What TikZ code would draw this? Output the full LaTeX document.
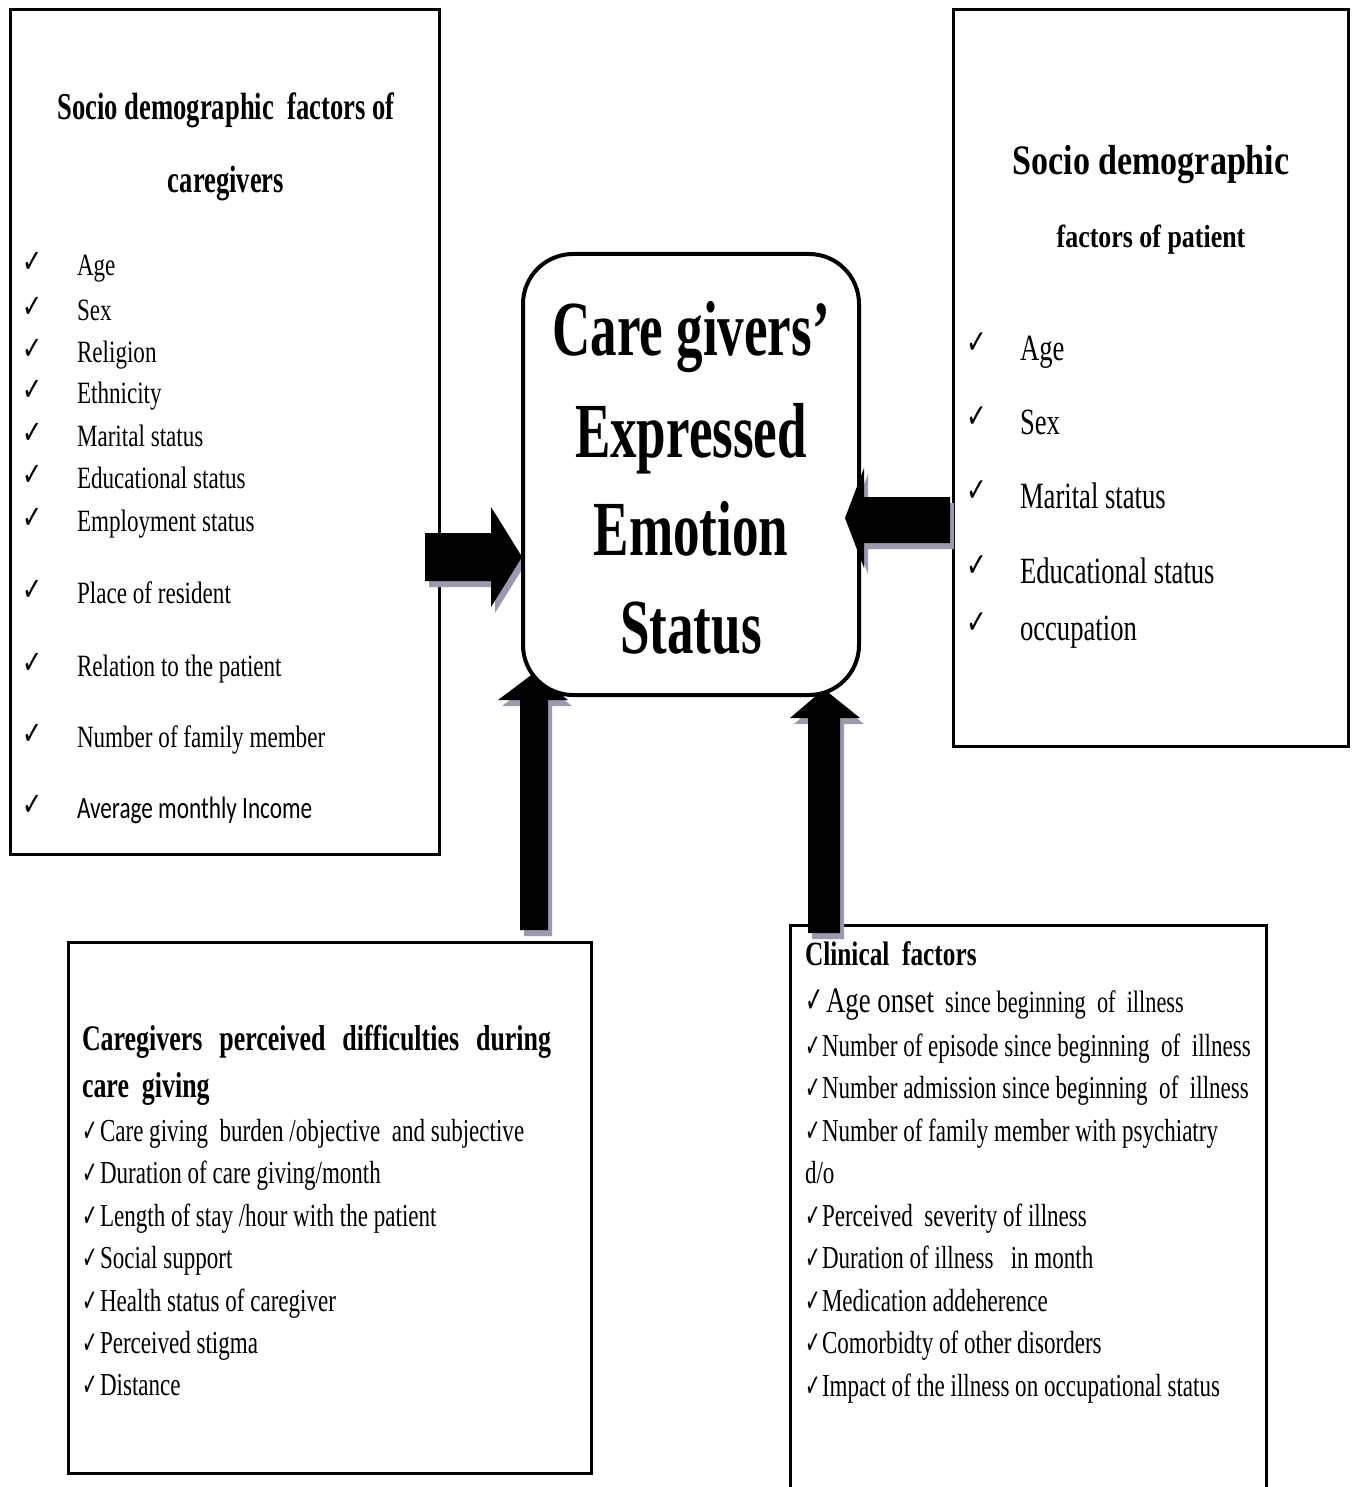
\documentclass[tikz,border=0pt]{standalone}
\usepackage{fontspec}
\setmainfont{Liberation Serif}[FakeStretch=0.72,BoldFont={Liberation Serif Bold}]
\newfontfamily\fA{Liberation Serif}[FakeStretch=0.68,BoldFont={Liberation Serif Bold}]
\newfontfamily\fB{Liberation Serif}[FakeStretch=0.745,BoldFont={Liberation Serif Bold}]
\newfontfamily\fC{Liberation Serif}[FakeStretch=0.81,BoldFont={Liberation Serif Bold}]
\newfontfamily\fD{Liberation Serif}[FakeStretch=0.72,BoldFont={Liberation Serif Bold}]
\newfontfamily\fE{Liberation Serif}[FakeStretch=0.70,BoldFont={Liberation Serif Bold}]
\newfontfamily\fCal{Carlito}[FakeStretch=0.75]
\newfontfamily\fChk{DejaVu Sans}[FakeStretch=0.75]
\newfontfamily\fChkN{DejaVu Sans}[FakeStretch=0.6]
\definecolor{shadowc}{RGB}{160,152,176}
\newcommand\fs[1]{\fontsize{#1}{#1}\selectfont}
\newcommand\ckb{\makebox[18pt][l]{\fChkN\fs{31}✓}}
\newcommand\ckc{\makebox[17pt][l]{\fChkN\fs{31}✓}}
\newcommand\arrowA{(425,533) -- (491,533) -- (491,507) -- (522,557) -- (491,607) -- (491,581) -- (425,581) -- cycle}
\newcommand\arrowB{(950,497) -- (864,497) -- (864,468) -- (845,518) -- (864,568) -- (864,543) -- (950,543) -- cycle}
\newcommand\arrowC{(520,930) -- (520,700) -- (498,700) -- (534,673) -- (568,700) -- (548,700) -- (548,930) -- cycle}
\newcommand\arrowD{(808,933) -- (808,718) -- (790,718) -- (824,689) -- (860,718) -- (840,718) -- (840,933) -- cycle}
\begin{document}
\begin{tikzpicture}[x=1pt,y=-1pt,
  txt/.style={anchor=base west,inner sep=0pt,outer sep=0pt},
  ctxt/.style={anchor=base,inner sep=0pt,outer sep=0pt},
  ck/.style={anchor=base west,inner sep=0pt,outer sep=0pt},
  frame/.style={draw=black,line width=3pt,inner sep=0pt},
  blockarrow/.style={fill=black},
  arrowshadow/.style={fill=shadowc}]
\useasboundingbox[fill=white] (0,0) rectangle (1357,1487);

% frames
\node[frame,minimum width=429pt,minimum height=845pt] (cg) at (225,432) {};
\node[frame,minimum width=395pt,minimum height=737pt] (pt) at (1151,378) {};
\node[frame,minimum width=523pt,minimum height=531pt] (df) at (330,1208) {};
\coordinate (clbl) at (790.5,1500);
\coordinate (cltl) at (790.5,925.5);
\coordinate (cltr) at (1266.5,925.5);
\coordinate (clbr) at (1266.5,1500);
\draw[line width=3pt] (clbl) -- (cltl) -- (cltr) -- (clbr);

% block arrows with shadows (behind the central box)
\begin{scope}[shift={(4,6)}]
  \fill[arrowshadow] \arrowA;
  \fill[arrowshadow] \arrowC;
  \fill[arrowshadow] \arrowD;
\end{scope}
\fill[blockarrow] \arrowA;
\fill[blockarrow] \arrowC;
\fill[blockarrow] \arrowD;

% central box
\node[draw,line width=4pt,rounded corners=50pt,fill=white,minimum width=336pt,minimum height=441pt,inner sep=0pt] (ee) at (691,474.5) {};
\node[ctxt,font=\fA\bfseries\fs{78}] (ee1) at (691,355) {Care givers’};
\node[ctxt,font=\fA\bfseries\fs{78}] (ee2) at (691,457) {Expressed};
\node[ctxt,font=\fA\bfseries\fs{78}] (ee3) at (691,555) {Emotion};
\node[ctxt,font=\fA\bfseries\fs{78}] (ee4) at (691,653) {Status};

% arrow from the patient box, drawn over the central box
\begin{scope}[shift={(4,6)}]
  \fill[arrowshadow] \arrowB;
\end{scope}
\fill[blockarrow] \arrowB;

% caregiver socio-demographic box
\node[ctxt,font=\fE\bfseries\fs{38}] (cgh1) at (226,120) {Socio demographic\ \ factors of};
\node[ctxt,font=\fE\bfseries\fs{38}] (cgh2) at (226,193) {caregivers};
\foreach \t/\y [count=\i] in {Age/276,Sex/320,Religion/362,Ethnicity/403,Marital status/446,Educational status/488,Employment status/531,Place of resident/603,Relation to the patient/676,Number of family member/747}{
  \node[ck,font=\fChk\fs{32}] (cgk\i) at (23,\y-3) {✓};
  \node[txt,font=\fB\fs{31}] (cgt\i) at (77,\y) {\t};
}
\node[ck,font=\fChk\fs{32}] (cgk11) at (23,815) {✓};
\node[txt,font=\fCal\fs{31}] (cgt11) at (77,818) {Average monthly Income};

% patient socio-demographic box
\node[ctxt,font=\fC\bfseries\fs{42}] (pth1) at (1151,175) {Socio demographic};
\node[ctxt,font=\fC\bfseries\fs{32}] (pth2) at (1151,248) {factors of patient};
\foreach \t/\y [count=\i] in {Age/360,Sex/434,Marital status/508,Educational status/583,occupation/640}{
  \node[ck,font=\fChk\fs{33}] (ptk\i) at (966,\y-7) {✓};
  \node[txt,font=\fD\fs{37}] (ptt\i) at (1020,\y) {\t};
}

% perceived difficulties box
\node[txt,font=\fD\bfseries\fs{36}] (dfh1) at (82,1050) {\hbox to 469pt{Caregivers\hfill perceived\hfill difficulties\hfill during}};
\node[txt,font=\fD\bfseries\fs{36}] (dfh2) at (82,1097) {care\ \ giving};
\node[txt,font=\fD\fs{32}] (df1) at (82,1141) {\ckb Care giving\ \ burden /objective\ \ and subjective};
\node[txt,font=\fD\fs{32}] (df2) at (82,1183) {\ckb Duration of care giving/month};
\node[txt,font=\fD\fs{32}] (df3) at (82,1226) {\ckb Length of stay /hour with the patient};
\node[txt,font=\fD\fs{32}] (df4) at (82,1268) {\ckb Social support};
\node[txt,font=\fD\fs{32}] (df5) at (82,1311) {\ckb Health status of caregiver};
\node[txt,font=\fD\fs{32}] (df6) at (82,1353) {\ckb Perceived stigma};
\node[txt,font=\fD\fs{32}] (df7) at (82,1395) {\ckb Distance};

% clinical factors
\node[txt,font=\fB\bfseries\fs{34}] (cl0) at (805,965) {Clinical\ \ factors};
\node[txt,font=\fD\fs{31}] (cl1) at (805,1012) {\makebox[21pt][l]{\fChkN\fs{36}✓}{\fB\fs{36}Age onset}\ \ since beginning\ \ of\ \ illness};
\node[txt,font=\fD\fs{32}] (cl2) at (805,1056) {\ckc Number of episode since beginning\ \ of\ \ illness};
\node[txt,font=\fD\fs{32}] (cl3) at (805,1098) {\ckc Number admission since beginning\ \ of\ \ illness};
\node[txt,font=\fD\fs{32}] (cl4) at (805,1141) {\ckc Number of family\ member with psychiatry};
\node[txt,font=\fD\fs{32}] (cl5) at (805,1183) {d/o};
\node[txt,font=\fD\fs{32}] (cl6) at (805,1226) {\ckc Perceived\ \ severity of illness};
\node[txt,font=\fD\fs{32}] (cl7) at (805,1268) {\ckc Duration of illness\ \ \ in month};
\node[txt,font=\fD\fs{32}] (cl8) at (805,1311) {\ckc Medication addeherence};
\node[txt,font=\fD\fs{32}] (cl9) at (805,1353) {\ckc Comorbidty of other disorders};
\node[txt,font=\fD\fs{32}] (cl10) at (805,1396) {\ckc Impact of the illness\ on occupational status};
\end{tikzpicture}
\end{document}
